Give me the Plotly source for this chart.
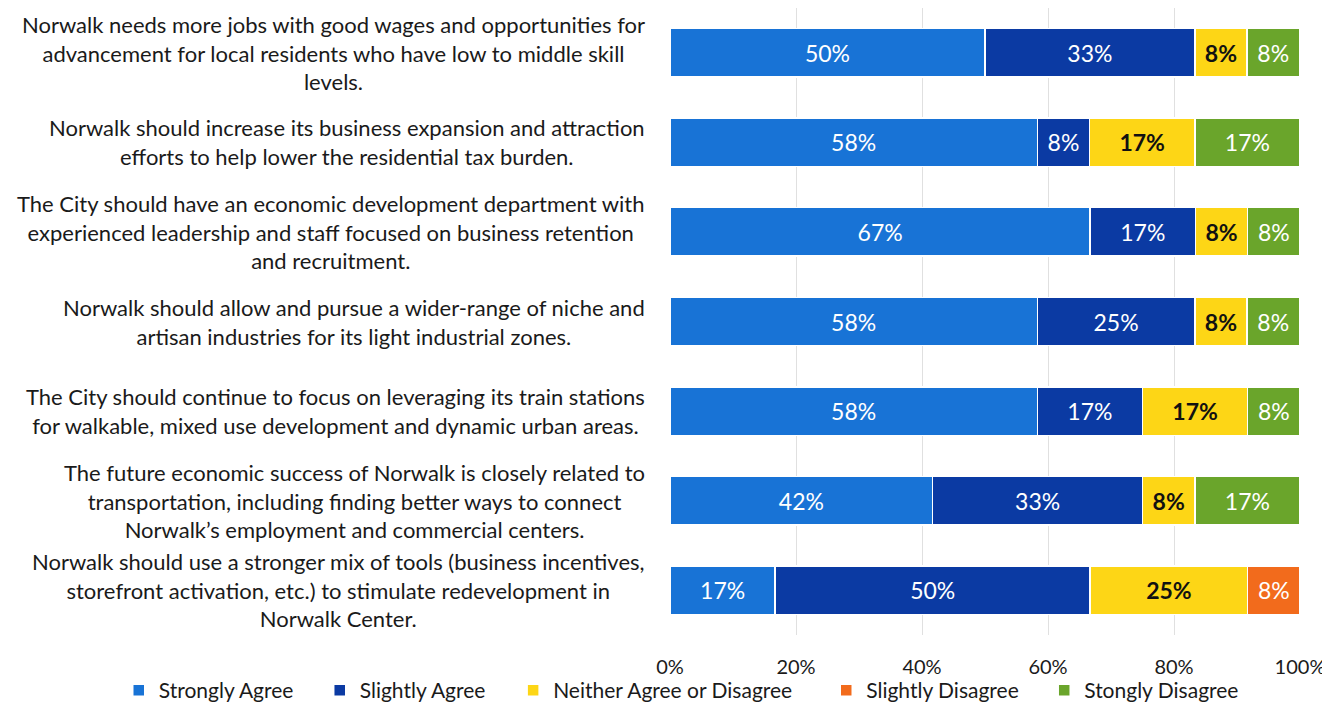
import plotly.graph_objects as go

statements = [
    "Norwalk needs more jobs with good wages and opportunities for<br>advancement for local residents who have low to middle skill<br>levels.",
    "Norwalk should increase its business expansion and attraction<br>efforts to help lower the residential tax burden.",
    "The City should have an economic development department with<br>experienced leadership and staff focused on business retention<br>and recruitment.",
    "Norwalk should allow and pursue a wider-range of niche and<br>artisan industries for its light industrial zones.",
    "The City should continue to focus on leveraging its train stations<br>for walkable, mixed use development and dynamic urban areas.",
    "The future economic success of Norwalk is closely related to<br>transportation, including finding better ways to connect<br>Norwalk\u2019s employment and commercial centers.",
    "Norwalk should use a stronger mix of tools (business incentives,<br>storefront activation, etc.) to stimulate redevelopment in<br>Norwalk Center.",
]

strongly_agree = [50.0, 58.3, 66.7, 58.3, 58.3, 41.7, 16.7]
slightly_agree = [33.3, 8.3, 16.7, 25.0, 16.7, 33.3, 50.0]
neither = [8.3, 16.7, 8.3, 8.3, 16.7, 8.3, 25.0]
slightly_disagree = [0, 0, 0, 0, 0, 0, 8.3]
strongly_disagree = [8.3, 16.7, 8.3, 8.3, 8.3, 16.7, 0]

x_ticks = [0, 20, 40, 60, 80, 100]
x_tick_labels = ["0%", "20%", "40%", "60%", "80%", "100%"]

series = [
    ("Strongly Agree", strongly_agree, "#1873d6", "white", 400),
    ("Slightly Agree", slightly_agree, "#0b3aa3", "white", 400),
    ("Neither Agree or Disagree", neither, "#fdd616", "#111111", 700),
    ("Slightly Disagree", slightly_disagree, "#f26b1c", "white", 400),
    ("Stongly Disagree", strongly_disagree, "#6aa52b", "white", 400),
]

FONT = "Lato"

# one legend per entry so the spacing can follow the original
legend_ids = ["legend", "legend2", "legend3", "legend4", "legend5"]
legend_x = [-0.875, -0.556, -0.249, 0.248, 0.594]

fig = go.Figure()
for (name, vals, color, txtcol, weight), lid in zip(series, legend_ids):
    fig.add_trace(go.Bar(
        y=statements,
        x=vals,
        name=name,
        orientation="h",
        legend=lid,
        marker=dict(color=color, line=dict(color="white", width=1.5)),
        text=[f"{v:.0f}%" if v > 0 else "" for v in vals],
        textposition="inside",
        insidetextanchor="middle",
        textfont=dict(family=FONT, size=23, color=txtcol, weight=weight),
        constraintext="none",
        hoverinfo="x+name",
    ))

# category labels drawn as centred annotations on the left
for s in statements:
    fig.add_annotation(
        x=-0.037, xref="paper", y=s, yref="y",
        text=s, showarrow=False,
        xanchor="right", yanchor="middle", align="center",
        font=dict(family=FONT, size=22, color="#1a1a1a"),
    )

legend_style = dict(
    orientation="h", y=-0.056, yanchor="top", xanchor="left",
    bgcolor="rgba(0,0,0,0)",
    font=dict(family=FONT, size=21, color="#1a1a1a"),
    itemwidth=30,
)
legends = {lid: dict(legend_style, x=lx) for lid, lx in zip(legend_ids, legend_x)}

# page body has an 8px margin, so the figure is sized to end at the window edge
fig.update_layout(
    width=1322, height=696,
    margin=dict(l=662, r=30, t=0, b=69, autoexpand=False),
    barmode="stack",
    bargap=0.46,
    plot_bgcolor="white",
    paper_bgcolor="white",
    font=dict(family=FONT, size=20, color="#1a1a1a"),
    showlegend=True,
    **legends,
)
fig.update_xaxes(
    range=[0, 100], tickvals=x_ticks, ticktext=x_tick_labels,
    showgrid=True, gridcolor="#e0e0e0", gridwidth=1, zeroline=False,
    ticklabelstandoff=18, tickfont=dict(family=FONT, size=20, color="#1a1a1a"),
    fixedrange=True,
)
fig.update_yaxes(
    autorange="reversed", showticklabels=False, showgrid=False, fixedrange=True,
)

fig.write_html("out.html")
